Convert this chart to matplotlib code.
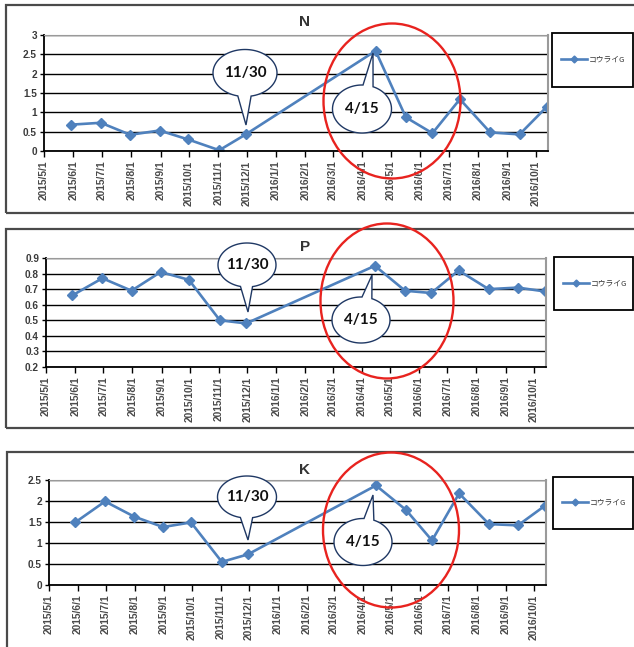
import numpy as np
import pandas as pd
import matplotlib
matplotlib.use('Agg')
import matplotlib.pyplot as plt
from matplotlib.patches import Ellipse, Polygon, Rectangle

W, H = 634, 647

# sampling dates and values
dates = pd.to_datetime(['2015-05-29', '2015-06-30', '2015-07-31', '2015-08-31', '2015-09-30',
                        '2015-11-02', '2015-11-30', '2016-04-15', '2016-05-17', '2016-06-14',
                        '2016-07-13', '2016-08-14', '2016-09-14', '2016-10-13'])
n_values = [0.68, 0.73, 0.42, 0.53, 0.30, 0.02, 0.43, 2.59, 0.87, 0.46, 1.34, 0.48, 0.43, 1.15]
p_values = [0.66, 0.77, 0.69, 0.81, 0.76, 0.50, 0.48, 0.85, 0.69, 0.675, 0.82, 0.70, 0.71, 0.685]
k_values = [1.49, 1.99, 1.63, 1.38, 1.49, 0.55, 0.73, 2.37, 1.79, 1.06, 2.18, 1.45, 1.42, 1.89]
series_name = 'コウライG'
titles = ['N', 'P', 'K']
y_limits = [(0, 3), (0.2, 0.9), (0, 2.5)]
y_steps = [0.5, 0.1, 0.5]
month_ticks = pd.date_range('2015-05-01', '2016-10-01', freq='MS')
month_labels = [f'{d.year}/{d.month}/{d.day}' for d in month_ticks]
callouts = ['11/30', '4/15']

blue = '#4F81BD'
navy = '#1F3864'
cjk = ['Noto Sans CJK JP', 'DejaVu Sans']


def fx(px):
    return px / W


def fy(py):
    return 1 - py / H


fig = plt.figure(figsize=(W / 100, H / 100), dpi=100)

# layout of each panel in pixels: axes (l, r, t, b), frame box (l, t, b), legend box (l, t, b), title y
panels = [
    dict(ax=(44, 548, 35, 151), box=(6, 5, 213), leg=(552, 33, 87), ty=22,
         b1=(245, 73, 64, 47, 246, 125), b2=(362, 109, 59, 48, 373, 53), red=(392, 101, 137, 155)),
    dict(ax=(46, 546, 258, 367), box=(6, 229, 428), leg=(554, 257, 310), ty=247,
         b1=(247, 265, 58, 44, 248, 312), b2=(361, 320, 58, 46, 372, 275), red=(387, 301, 133, 155)),
    dict(ax=(49, 546, 480, 585), box=(7, 452, 660), leg=(553, 477, 529), ty=470,
         b1=(247, 497, 59, 42, 248, 540), b2=(363, 542, 58, 47, 373, 495), red=(391, 530, 136, 155)),
]
values = [n_values, p_values, k_values]


def bubble(cx, cy, w, h, tipx, tipy, a1, a2, text):
    # speech bubble: ellipse outline with a triangular tail, built in pixel space
    a, b = w / 2, h / 2
    t = np.radians(np.linspace(a2, a1 + 360, 120))
    xs = cx + a * np.cos(t)
    ys = (H - cy) + b * np.sin(t)
    pts = [(fx(x), y / H) for x, y in zip(xs, ys)]
    pts.append((fx(tipx), fy(tipy)))
    poly = Polygon(pts, closed=True, transform=fig.transFigure, facecolor='white',
                   edgecolor=navy, lw=1.0, zorder=5)
    fig.add_artist(poly)
    fig.text(fx(cx), fy(cy), text, ha='center', va='center', fontsize=11,
             fontweight='bold', family='Lato', color='#111111', zorder=6)


for i, p in enumerate(panels):
    l, r, t, b = p['ax']
    ax = fig.add_axes([fx(l), fy(b), fx(r - l), (b - t) / H])
    ax.plot(dates, values[i], color=blue, lw=1.9, marker='D', markersize=5.5, label=series_name)
    ax.set_xlim(pd.Timestamp('2015-05-01'), pd.Timestamp('2016-10-14'))
    lo, hi = y_limits[i]
    ax.set_ylim(lo, hi)
    yt = np.round(np.arange(lo, hi + 1e-9, y_steps[i]), 2)
    ax.set_yticks(yt)
    ax.set_yticklabels([f'{v:g}' for v in yt], fontsize=7.2, fontweight='bold',
                       color='#3a3a3a', family='Liberation Sans')
    ax.set_xticks(month_ticks)
    ax.set_xticklabels(month_labels, rotation=90, fontsize=7.4, fontweight='bold',
                       color='#4a4a4a', family='Liberation Sans')
    ax.tick_params(axis='x', direction='out', length=4, width=1, pad=3)
    ax.tick_params(axis='y', direction='out', length=3, width=1, pad=2)
    ax.grid(axis='y', color='black', lw=1.0)
    ax.set_axisbelow(True)
    ax.spines['left'].set_color('black')
    ax.spines['left'].set_linewidth(1.3)
    ax.spines['bottom'].set_color('black')
    ax.spines['bottom'].set_linewidth(1.3)
    ax.spines['top'].set_color('#9a9a9a')
    ax.spines['right'].set_color('#9a9a9a')
    ax.spines['right'].set_linewidth(1.5)

    # panel frame
    bl, bt, bb = p['box']
    fig.add_artist(Rectangle((fx(bl), fy(bb)), fx(700 - bl), (bb - bt) / H, fill=False,
                             edgecolor='#4a4a4a', lw=1.6, transform=fig.transFigure, zorder=0))

    # title
    fig.text(fx(305), fy(p['ty']), titles[i], ha='center', va='center', fontsize=11,
             fontweight='bold', color='#333333', family='Liberation Sans')

    # legend box
    ll, lt, lb = p['leg']
    fig.add_artist(Rectangle((fx(ll), fy(lb)), fx(633 - ll), (lb - lt) / H, fill=False,
                             edgecolor='black', lw=1.3, transform=fig.transFigure, zorder=2))
    leg = ax.legend(loc='center left', bbox_to_anchor=(fx(ll + 9), fy((lt + lb) / 2)),
                    bbox_transform=fig.transFigure, frameon=False, handlelength=3.4,
                    handletextpad=0.15, borderpad=0, borderaxespad=0,
                    prop={'family': cjk, 'size': 5.6})
    for txt in leg.get_texts():
        txt.set_color('#333333')
    for h in leg.legend_handles:
        h.set_markersize(3.5)

    # callouts
    cx, cy, w, h, tx, ty = p['b1']
    bubble(cx, cy, w, h, tx, ty, 257, 281, callouts[0])
    cx, cy, w, h, tx, ty = p['b2']
    bubble(cx, cy, w, h, tx, ty, 68, 88, callouts[1])
    rx, ry, rw, rh = p['red']
    fig.add_artist(Ellipse((fx(rx), fy(ry)), fx(rw), rh / H, fill=False, edgecolor='#E8231F',
                           lw=1.7, transform=fig.transFigure, zorder=7))

fig.savefig('out.png', dpi=100, facecolor='white')
